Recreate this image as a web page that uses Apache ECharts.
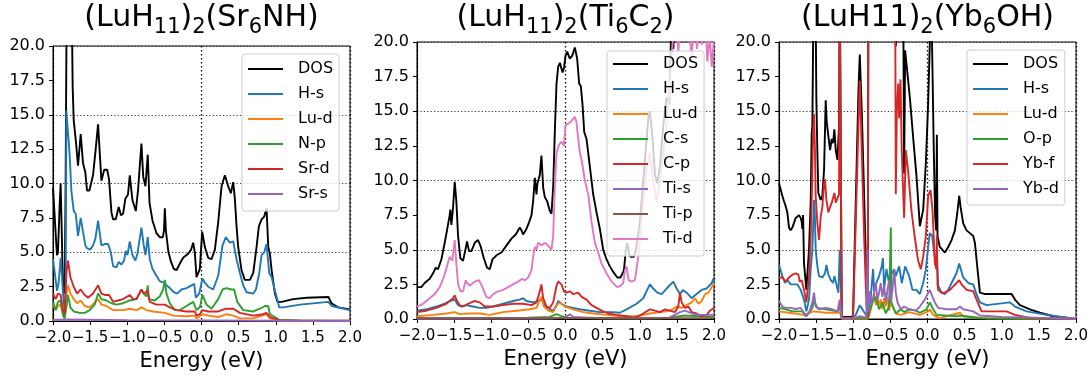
<!DOCTYPE html>
<html>
<head>
<meta charset="utf-8">
<script src="https://cdn.jsdelivr.net/npm/echarts@6/dist/echarts.min.js"></script>
<style>html,body{margin:0;padding:0;background:#fff}#c{width:1091px;height:377px}</style>
</head>
<body>
<div id="c"></div>
<script>
// ---------- tick labels ----------
const xTicks = [-2.0, -1.5, -1.0, -0.5, 0.0, 0.5, 1.0, 1.5, 2.0];
const yTicks = [0.0, 2.5, 5.0, 7.5, 10.0, 12.5, 15.0, 17.5, 20.0];

// ---------- Panel 1: (LuH11)2(Sr6NH) ----------
const sr_DOS = [[-2.00,9.7],[-1.98,9.8],[-1.96,6.0],[-1.946,4.8],[-1.933,5.0],[-1.91,8.5],[-1.897,10.0],[-1.88,6],[-1.865,2.2],[-1.843,2.0],[-1.83,10],[-1.815,24],[-1.75,24],[-1.735,17],[-1.721,14.6],[-1.694,13.2],[-1.663,11.3],[-1.627,13.6],[-1.596,11.5],[-1.564,10.8],[-1.542,9.5],[-1.51,9.5],[-1.461,10.6],[-1.425,12.5],[-1.393,14.3],[-1.348,10.2],[-1.31,11.0],[-1.27,11.0],[-1.245,10.3],[-1.213,7.9],[-1.191,7.4],[-1.155,7.4],[-1.115,8.3],[-1.085,7.7],[-1.056,7.8],[-1.025,8.9],[-0.99,9.2],[-0.966,10.6],[-0.93,8.8],[-0.885,8.0],[-0.855,9.5],[-0.809,12.9],[-0.785,10.5],[-0.755,9.8],[-0.724,12.1],[-0.70,8.6],[-0.66,7.3],[-0.607,6.4],[-0.562,6.1],[-0.52,6.1],[-0.505,6.6],[-0.494,8.2],[-0.48,6.6],[-0.445,5.0],[-0.41,4.3],[-0.373,3.8],[-0.337,3.7],[-0.29,4.2],[-0.247,4.6],[-0.18,4.9],[-0.14,5.2],[-0.112,5.7],[-0.09,5.0],[-0.067,3.2],[-0.022,3.8],[0.009,6.5],[0.045,5.4],[0.09,4.6],[0.135,4.5],[0.18,5.2],[0.225,7.2],[0.27,9.8],[0.315,10.6],[0.36,9.8],[0.395,9.3],[0.427,10.1],[0.449,8.9],[0.472,6.9],[0.494,5.4],[0.539,3.7],[0.584,3.0],[0.652,3.0],[0.697,3.5],[0.742,5.4],[0.773,6.9],[0.809,7.4],[0.845,7.6],[0.876,8.2],[0.899,5.4],[0.921,4.9],[0.944,3.7],[0.989,2.0],[1.025,1.4],[1.08,1.4],[1.236,1.6],[1.416,1.7],[1.71,1.75],[1.75,1.3],[1.84,1.0],[2.0,0.85]];
const sr_Hs = [[-2.0,4.5],[-1.964,3.0],[-1.946,2.2],[-1.924,2.8],[-1.897,4.6],[-1.875,3],[-1.865,2.0],[-1.843,0.8],[-1.83,1.5],[-1.82,15.3],[-1.798,15.2],[-1.775,12],[-1.753,9.5],[-1.721,8.0],[-1.694,7.8],[-1.663,6.2],[-1.627,7.5],[-1.596,6.5],[-1.564,5.5],[-1.542,5.3],[-1.497,5.2],[-1.461,5.5],[-1.429,6.0],[-1.393,7.3],[-1.348,5.5],[-1.303,5.6],[-1.258,5.6],[-1.222,5.0],[-1.191,4.0],[-1.146,3.9],[-1.115,4.3],[-1.079,4.1],[-1.043,4.4],[-1.020,5.1],[-0.998,4.8],[-0.966,5.8],[-0.930,4.8],[-0.890,4.4],[-0.863,4.9],[-0.809,6.8],[-0.778,5.5],[-0.755,4.8],[-0.724,6.1],[-0.697,4.5],[-0.661,3.8],[-0.607,3.3],[-0.562,2.9],[-0.508,2.8],[-0.494,2.9],[-0.472,2.6],[-0.427,2.4],[-0.373,2.1],[-0.328,2.0],[-0.270,2.3],[-0.202,2.4],[-0.135,2.6],[-0.099,2.7],[-0.076,1.7],[-0.031,2.0],[0.013,3.1],[0.045,2.8],[0.09,2.5],[0.157,2.3],[0.225,3.3],[0.283,5.5],[0.328,6.1],[0.382,5.7],[0.427,5.8],[0.472,4.5],[0.517,3.5],[0.562,2.6],[0.607,2.1],[0.697,2.0],[0.733,2.3],[0.778,3.5],[0.809,4.8],[0.845,5.0],[0.876,5.6],[0.912,3.5],[0.944,3.2],[0.989,2.2],[1.047,1.0],[1.101,1.0],[1.326,1.2],[1.708,1.4],[1.753,1.1],[2.0,0.8]];
const sr_Lud = [[-2.0,1.2],[-1.964,0.8],[-1.933,1.1],[-1.897,1.2],[-1.865,0.5],[-1.843,0.2],[-1.82,2.0],[-1.798,2.6],[-1.766,2.0],[-1.721,1.6],[-1.676,1.3],[-1.627,1.5],[-1.573,1.1],[-1.506,1.0],[-1.393,1.6],[-1.348,1.2],[-1.281,1.1],[-1.191,0.8],[-1.056,0.8],[-0.966,0.9],[-0.876,0.8],[-0.809,1.0],[-0.742,0.8],[-0.652,0.7],[-0.494,0.6],[-0.382,0.4],[-0.202,0.35],[-0.090,0.4],[-0.067,0.2],[0.013,0.5],[0.09,0.4],[0.225,0.3],[0.337,0.5],[0.427,0.4],[0.517,0.2],[0.697,0.2],[0.876,0.5],[0.921,0.2],[1.047,0.03],[2.0,0.01]];
const sr_Np = [[-2.0,1.4],[-1.964,0.8],[-1.933,1.4],[-1.897,1.5],[-1.865,0.4],[-1.843,0.2],[-1.82,1.0],[-1.798,1.9],[-1.766,1.0],[-1.721,0.7],[-1.640,0.6],[-1.573,0.6],[-1.506,0.8],[-1.438,1.2],[-1.393,2.0],[-1.348,1.6],[-1.281,1.5],[-1.213,1.3],[-1.146,1.2],[-1.056,1.3],[-0.966,1.5],[-0.876,1.6],[-0.809,2.3],[-0.778,2.0],[-0.742,1.8],[-0.724,2.6],[-0.710,1.6],[-0.629,1.5],[-0.562,1.8],[-0.517,2.3],[-0.494,3.0],[-0.472,2.0],[-0.427,1.3],[-0.360,0.8],[-0.292,0.8],[-0.202,1.1],[-0.112,1.4],[-0.090,1.5],[-0.067,0.8],[-0.022,1.0],[0.013,1.9],[0.067,1.2],[0.135,0.9],[0.225,1.6],[0.283,2.3],[0.337,2.4],[0.404,2.3],[0.440,2.3],[0.481,1.4],[0.562,0.8],[0.697,0.7],[0.787,0.9],[0.854,1.1],[0.899,1.1],[0.921,0.5],[0.989,0.3],[1.047,0.1],[1.326,0.05],[2.0,0.02]];
const sr_Srd = [[-2.0,2.0],[-1.964,1.6],[-1.933,2.0],[-1.897,1.9],[-1.865,0.8],[-1.843,0.5],[-1.82,3.5],[-1.798,4.4],[-1.766,3.2],[-1.721,2.5],[-1.676,2.0],[-1.627,2.3],[-1.573,1.9],[-1.528,1.7],[-1.461,2.0],[-1.393,2.6],[-1.348,2.0],[-1.303,1.9],[-1.245,1.9],[-1.191,1.4],[-1.124,1.5],[-1.056,1.6],[-0.966,1.9],[-0.921,1.6],[-0.876,1.6],[-0.809,2.3],[-0.778,2.0],[-0.724,2.2],[-0.697,1.4],[-0.607,1.2],[-0.494,1.2],[-0.427,1.0],[-0.337,0.8],[-0.202,0.7],[-0.090,0.7],[-0.067,0.4],[-0.022,0.5],[0.013,0.8],[0.09,0.7],[0.225,0.7],[0.328,0.9],[0.427,0.9],[0.517,0.6],[0.697,0.4],[0.831,0.5],[0.876,0.6],[0.921,0.3],[1.047,0.05],[2.0,0.02]];
const sr_Srs = [[-2.0,0.08],[-1.82,0.12],[-1.0,0.07],[0.0,0.05],[1.0,0.03],[2.0,0.01]];

// ---------- Panel 2: (LuH11)2(Ti6C2) ----------
const ti_DOS = [[-2.0,2.3],[-1.942,2.3],[-1.897,2.6],[-1.829,2.9],[-1.784,3.3],[-1.748,3.7],[-1.717,3.6],[-1.672,4.3],[-1.627,5.5],[-1.596,6.4],[-1.560,7.5],[-1.551,7.9],[-1.537,6.8],[-1.515,8.0],[-1.492,9.9],[-1.470,8.5],[-1.447,6.0],[-1.416,4.4],[-1.380,4.2],[-1.344,5.1],[-1.326,5.6],[-1.299,4.9],[-1.267,4.9],[-1.222,5.5],[-1.178,5.7],[-1.146,5.3],[-1.101,4.4],[-1.056,3.7],[-1.020,3.6],[-0.984,4.3],[-0.930,4.6],[-0.863,4.8],[-0.796,5.3],[-0.728,5.8],[-0.670,6.1],[-0.616,6.6],[-0.593,6.4],[-0.571,6.1],[-0.526,6.5],[-0.490,7.0],[-0.458,7.5],[-0.436,8.5],[-0.413,10.2],[-0.391,9.0],[-0.378,9.8],[-0.346,10.4],[-0.324,11.8],[-0.301,9.5],[-0.279,8.8],[-0.247,8.5],[-0.211,7.8],[-0.189,7.6],[-0.166,9.5],[-0.144,13.5],[-0.121,17],[-0.099,18.2],[-0.076,18.5],[-0.040,17.8],[-0.018,18.2],[0.0,19.0],[0.022,19.3],[0.058,18.8],[0.090,19.0],[0.126,19.6],[0.157,18.8],[0.184,17.0],[0.207,16.8],[0.229,15.5],[0.252,13.5],[0.283,13.0],[0.328,11.0],[0.373,9.0],[0.418,7.7],[0.463,6.5],[0.508,5.0],[0.553,4.3],[0.598,3.8],[0.643,3.4],[0.697,3.0],[0.742,3.0],[0.787,3.5],[0.809,4.8],[0.831,5.5],[0.858,4.7],[0.876,4.5],[0.921,4.5],[0.948,5.0],[1.002,7.0],[1.070,11.5],[1.115,14.5],[1.137,15.0],[1.173,13.0],[1.204,10.5],[1.236,9.8],[1.272,11.0],[1.317,14.0],[1.362,16.0],[1.398,15.5],[1.429,22],[1.452,19.5],[1.48,23],[1.6,25],[2.0,25]];
const ti_Hs = [[-2.0,0.6],[-1.874,0.7],[-1.739,0.9],[-1.627,1.1],[-1.560,1.3],[-1.492,1.4],[-1.447,1.0],[-1.402,0.9],[-1.335,1.0],[-1.245,0.9],[-1.155,0.8],[-1.065,0.8],[-0.975,0.9],[-0.840,1.1],[-0.706,1.3],[-0.616,1.4],[-0.571,1.5],[-0.526,1.3],[-0.436,1.2],[-0.369,1.3],[-0.324,1.4],[-0.279,1.0],[-0.211,0.7],[-0.166,0.6],[-0.121,1.0],[-0.099,1.3],[-0.054,1.1],[0.013,0.9],[0.103,0.8],[0.193,0.7],[0.328,0.6],[0.463,0.5],[0.643,0.5],[0.733,0.45],[0.822,0.7],[0.957,1.1],[1.047,1.5],[1.10,2.1],[1.137,2.5],[1.182,2.2],[1.236,1.9],[1.294,1.8],[1.362,2.2],[1.452,2.7],[1.497,2.2],[1.542,1.8],[1.58,2.1],[1.631,1.9],[1.699,1.5],[1.766,1.8],[1.834,2.1],[1.90,2.2],[1.97,2.6],[1.99,2.9],[2.0,2.6]];
const ti_Lud = [[-2.0,0.2],[-1.784,0.3],[-1.604,0.4],[-1.492,0.5],[-1.425,0.35],[-1.290,0.4],[-1.155,0.4],[-1.020,0.3],[-0.840,0.5],[-0.661,0.6],[-0.481,0.7],[-0.391,0.8],[-0.346,1.4],[-0.324,1.6],[-0.292,0.9],[-0.234,0.6],[-0.166,0.5],[-0.121,1.0],[-0.076,1.2],[-0.009,0.9],[0.103,0.7],[0.238,0.5],[0.373,0.4],[0.553,0.3],[0.733,0.2],[0.957,0.2],[1.137,0.4],[1.272,0.5],[1.407,0.6],[1.497,0.9],[1.564,0.8],[1.631,1.0],[1.699,1.2],[1.744,1.5],[1.789,1.1],[1.834,1.3],[1.879,1.8],[1.924,1.9],[1.969,2.3],[2.0,2.6]];
const ti_Cs = [[-2.0,0.05],[-1.0,0.08],[-0.5,0.1],[-0.211,0.15],[-0.121,0.35],[-0.054,0.2],[0.013,0.1],[0.373,0.05],[1.272,0.05],[1.4,0.1],[1.6,0.25],[1.8,0.2],[2.0,0.15]];
const ti_Cp = [[-2.0,0.5],[-1.874,0.6],[-1.739,0.8],[-1.604,1.1],[-1.515,1.5],[-1.492,1.7],[-1.461,1.3],[-1.425,1.0],[-1.380,0.9],[-1.312,1.1],[-1.222,1.3],[-1.155,1.2],[-1.088,0.9],[-0.975,0.9],[-0.840,1.0],[-0.706,1.1],[-0.571,1.1],[-0.458,1.0],[-0.391,1.2],[-0.346,2.0],[-0.324,2.5],[-0.301,1.5],[-0.256,0.9],[-0.211,0.8],[-0.166,1.2],[-0.121,2.4],[-0.099,2.7],[-0.054,2.5],[-0.022,2.0],[0.013,1.9],[0.058,2.0],[0.103,1.8],[0.171,1.9],[0.216,1.6],[0.283,1.4],[0.351,1.0],[0.418,0.8],[0.485,0.6],[0.575,0.4],[0.688,0.3],[0.822,0.2],[0.912,0.1],[0.980,0.2],[1.047,0.4],[1.137,0.7],[1.204,0.6],[1.272,0.5],[1.339,0.7],[1.407,0.6],[1.474,0.5],[1.519,0.9],[1.542,1.9],[1.564,1.2],[1.609,0.8],[1.654,0.9],[1.699,0.5],[1.766,0.4],[1.834,0.2],[1.901,0.3],[1.946,0.6],[2.0,0.8]];
const ti_Tis = [[-2.0,0.02],[-0.2,0.03],[0.0,0.1],[0.058,0.35],[0.103,0.15],[0.3,0.1],[0.5,0.05],[1.0,0.05],[1.4,0.1],[1.542,0.5],[1.609,0.6],[1.7,0.4],[1.8,0.3],[2.0,0.3]];
const ti_Tip = [[-2.0,0.05],[-1.0,0.06],[0.0,0.08],[1.0,0.05],[2.0,0.06]];
const ti_Tid = [[-2.0,0.9],[-1.919,1.1],[-1.829,1.5],[-1.762,1.8],[-1.694,2.3],[-1.640,3.0],[-1.596,3.8],[-1.560,4.5],[-1.524,4.2],[-1.506,5.0],[-1.492,5.7],[-1.470,4.0],[-1.447,2.5],[-1.416,2.0],[-1.380,2.0],[-1.344,2.8],[-1.326,2.6],[-1.290,2.4],[-1.222,2.7],[-1.164,2.8],[-1.119,2.3],[-1.065,1.6],[-1.020,1.5],[-0.975,1.8],[-0.908,2.0],[-0.840,2.1],[-0.773,2.3],[-0.706,2.5],[-0.638,2.7],[-0.584,2.9],[-0.548,2.8],[-0.503,3.0],[-0.458,3.5],[-0.436,4.5],[-0.413,5.2],[-0.391,5.0],[-0.369,5.5],[-0.324,5.3],[-0.279,5.5],[-0.234,5.3],[-0.189,5.0],[-0.166,6.0],[-0.144,9.5],[-0.121,12.0],[-0.085,12.6],[-0.054,12.8],[-0.022,12.5],[0.0,14.0],[0.036,14.1],[0.081,14.3],[0.126,14.6],[0.148,14.2],[0.171,13.0],[0.193,12.0],[0.216,11.5],[0.261,10.0],[0.306,9.0],[0.351,7.0],[0.396,5.5],[0.440,4.8],[0.485,4.0],[0.553,3.3],[0.620,2.7],[0.697,2.3],[0.742,2.4],[0.778,2.6],[0.800,3.5],[0.822,3.8],[0.849,2.8],[0.890,2.7],[0.935,2.8],[0.980,4.5],[1.038,8.0],[1.092,11.0],[1.137,12.0],[1.182,10.0],[1.227,8.5],[1.272,10.0],[1.339,13.0],[1.407,17.0],[1.45,20.5],[1.497,21],[1.52,19.3],[1.55,22],[1.60,20.2],[1.65,21.5],[1.70,19.0],[1.74,22],[1.77,19.5],[1.80,21],[1.84,19.8],[1.88,22],[1.91,18.6],[1.94,20.5],[1.97,18.2],[2.0,20.3]];

// ---------- Panel 3: (LuH11)2(Yb6OH) ----------
const yb_DOS = [[-2.0,9.8],[-1.955,8.9],[-1.933,8.5],[-1.919,8.3],[-1.91,8.4],[-1.888,7.7],[-1.865,6.6],[-1.843,6.4],[-1.820,6.6],[-1.775,7.3],[-1.730,7.5],[-1.708,7.3],[-1.694,7.0],[-1.685,6.5],[-1.676,7.5],[-1.663,4.0],[-1.631,2.1],[-1.596,5.0],[-1.573,8.4],[-1.560,13.4],[-1.551,13.9],[-1.537,22],[-1.506,22],[-1.497,16],[-1.483,12.0],[-1.470,9.1],[-1.438,8.6],[-1.416,8.9],[-1.393,10.8],[-1.371,15.8],[-1.357,14.2],[-1.335,13.2],[-1.312,12.2],[-1.290,13.0],[-1.272,12.7],[-1.254,13.7],[-1.236,12.2],[-1.213,11.5],[-1.191,14],[-1.182,25],[-1.160,25],[-1.155,0.3],[-1.146,0.15],[-1.011,0.15],[-1.002,0.4],[-0.966,8.5],[-0.930,16.5],[-0.912,19.1],[-0.885,15],[-0.854,9],[-0.822,2.5],[-0.804,0.5],[-0.796,25],[-0.449,25],[-0.427,19.7],[-0.404,22],[-0.360,25],[-0.324,20],[-0.315,10.5],[-0.301,19.4],[-0.283,19.3],[-0.238,16],[-0.193,13.1],[-0.148,10.3],[-0.103,6.7],[-0.058,7.9],[-0.022,11.3],[0.009,15.6],[0.031,19.9],[0.045,25],[0.060,25],[0.067,18],[0.085,12],[0.103,7.4],[0.117,6.4],[0.126,13.3],[0.135,6.0],[0.166,5.2],[0.234,4.8],[0.279,5.2],[0.324,5.7],[0.369,6.4],[0.400,7.6],[0.427,8.9],[0.445,8.1],[0.481,6.9],[0.526,6.4],[0.571,6.2],[0.616,6.0],[0.638,5.5],[0.683,3.1],[0.706,1.9],[0.773,1.8],[1.133,1.8],[1.178,1.4],[1.245,1.0],[1.380,0.7],[1.515,0.45],[1.694,0.2],[1.897,0.07],[2.0,0.0]];
const yb_Hs = [[-2.0,3.9],[-1.955,3.1],[-1.919,2.6],[-1.888,2.8],[-1.843,2.5],[-1.753,2.5],[-1.708,2.1],[-1.685,2.1],[-1.663,1.4],[-1.631,0.55],[-1.596,1.4],[-1.573,3.6],[-1.551,5.0],[-1.528,8.6],[-1.519,7.9],[-1.506,5.0],[-1.483,3.8],[-1.461,3.1],[-1.416,3.0],[-1.380,3.3],[-1.362,3.9],[-1.335,3.2],[-1.303,2.8],[-1.272,2.6],[-1.254,3.1],[-1.227,2.5],[-1.200,1.9],[-1.182,5.0],[-1.164,2],[-1.155,0.1],[-1.146,0.05],[-1.011,0.05],[-0.966,0.3],[-0.912,1.0],[-0.854,0.5],[-0.804,0.1],[-0.787,0.8],[-0.764,1.6],[-0.733,3.6],[-0.719,2.0],[-0.697,2.5],[-0.652,3.1],[-0.616,3.8],[-0.600,4.4],[-0.584,2.2],[-0.553,3.6],[-0.517,2.6],[-0.481,3.3],[-0.449,3.6],[-0.427,3.1],[-0.382,3.8],[-0.346,2.6],[-0.301,3.8],[-0.247,3.1],[-0.202,2.1],[-0.148,2.1],[-0.103,1.8],[-0.058,2.6],[-0.022,3.6],[0.009,5.2],[0.031,6.2],[0.063,6.0],[0.085,5.0],[0.121,3.6],[0.126,4.5],[0.144,2.4],[0.189,1.9],[0.234,1.8],[0.279,2.1],[0.324,2.6],[0.391,3.3],[0.427,4.0],[0.449,3.6],[0.481,3.0],[0.548,2.6],[0.616,2.5],[0.652,1.9],[0.706,1.2],[0.796,1.0],[1.110,1.2],[1.178,0.9],[1.335,0.55],[1.605,0.3],[1.897,0.07],[2.0,0.0]];
const yb_Lud = [[-2.0,0.55],[-1.865,0.45],[-1.663,0.3],[-1.596,0.45],[-1.528,0.55],[-1.371,0.45],[-1.213,0.45],[-1.182,0.5],[-1.155,0.02],[-0.804,0.02],[-0.787,0.2],[-0.742,1.2],[-0.719,1.9],[-0.697,1.0],[-0.674,1.5],[-0.652,1.0],[-0.629,1.4],[-0.607,0.7],[-0.584,1.5],[-0.562,0.9],[-0.539,1.6],[-0.517,0.6],[-0.494,1.3],[-0.472,0.9],[-0.427,0.4],[-0.360,0.3],[-0.247,0.5],[-0.103,0.3],[0.009,0.55],[0.031,0.7],[0.076,0.3],[0.166,0.07],[0.436,0.45],[0.481,0.2],[0.796,0.05],[2.0,0.0]];
const yb_Op = [[-2.0,0.8],[-1.910,0.7],[-1.820,0.55],[-1.685,0.55],[-1.640,0.2],[-1.596,0.45],[-1.551,0.8],[-1.528,1.3],[-1.483,0.8],[-1.371,0.7],[-1.213,0.55],[-1.182,0.9],[-1.155,0.05],[-0.804,0.05],[-0.787,0.4],[-0.742,1.2],[-0.697,1.6],[-0.652,0.7],[-0.607,1.2],[-0.562,0.4],[-0.517,0.9],[-0.497,1.0],[-0.494,6.6],[-0.487,1.2],[-0.472,1.2],[-0.427,0.4],[-0.360,0.7],[-0.315,0.5],[-0.247,0.7],[-0.157,0.6],[-0.103,0.45],[-0.013,0.7],[0.031,1.2],[0.067,0.8],[0.121,0.3],[0.391,0.2],[0.436,0.25],[0.706,0.05],[2.0,0.0]];
const yb_Ybf = [[-2.0,3.0],[-1.955,3.0],[-1.933,3.1],[-1.910,2.7],[-1.865,3.0],[-1.820,3.2],[-1.775,3.3],[-1.739,3.2],[-1.721,2.7],[-1.694,2.8],[-1.663,2.1],[-1.631,1.2],[-1.596,3.1],[-1.573,6.0],[-1.560,8.4],[-1.542,13.2],[-1.528,14.8],[-1.515,12.0],[-1.506,8.9],[-1.483,6.9],[-1.461,5.7],[-1.438,7.4],[-1.416,8.1],[-1.393,9.8],[-1.380,10.1],[-1.362,8.6],[-1.335,7.7],[-1.312,8.1],[-1.290,8.4],[-1.272,8.3],[-1.254,9.1],[-1.236,8.4],[-1.213,8.4],[-1.191,9],[-1.182,25],[-1.160,25],[-1.155,0.1],[-1.146,0.05],[-1.011,0.05],[-1.002,0.2],[-0.966,7],[-0.930,14],[-0.912,17.2],[-0.885,12],[-0.854,6],[-0.822,1],[-0.804,0.1],[-0.796,25],[-0.436,25],[-0.427,9.0],[-0.413,15],[-0.395,17],[-0.382,14.5],[-0.364,17.3],[-0.346,12],[-0.315,7.3],[-0.292,12.2],[-0.261,10.7],[-0.216,7.8],[-0.171,5.9],[-0.126,4.2],[-0.090,3.6],[-0.058,4.5],[-0.022,6.0],[0.009,8.9],[0.040,9.3],[0.067,7.9],[0.099,4.0],[0.121,3.6],[0.126,6.0],[0.135,2.5],[0.144,2.1],[0.189,1.9],[0.234,1.9],[0.301,2.1],[0.391,2.6],[0.427,2.8],[0.458,2.5],[0.526,2.1],[0.616,2.0],[0.661,1.4],[0.728,0.55],[1.065,0.55],[1.178,0.3],[1.380,0.07],[2.0,0.0]];
const yb_Ybd = [[-2.0,1.3],[-1.955,0.9],[-1.910,0.8],[-1.843,0.8],[-1.775,0.72],[-1.708,0.8],[-1.663,0.45],[-1.631,0.2],[-1.596,0.45],[-1.551,1.2],[-1.528,1.9],[-1.506,0.9],[-1.461,0.7],[-1.371,0.8],[-1.281,0.7],[-1.213,0.55],[-1.182,1.4],[-1.155,0.05],[-1.011,0.05],[-0.912,0.2],[-0.822,0.1],[-0.809,5.0],[-0.796,0.5],[-0.787,2.0],[-0.764,2.1],[-0.742,1.2],[-0.719,1.9],[-0.697,2.6],[-0.674,1.4],[-0.652,1.9],[-0.629,2.6],[-0.607,1.6],[-0.584,2.4],[-0.562,1.2],[-0.539,2.1],[-0.517,2.8],[-0.494,1.2],[-0.472,2.1],[-0.449,3.6],[-0.427,1.9],[-0.404,1.2],[-0.360,0.7],[-0.315,0.9],[-0.247,0.7],[-0.157,0.6],[-0.103,0.9],[-0.036,1.4],[0.009,1.9],[0.031,2.1],[0.067,1.6],[0.099,1.2],[0.144,0.8],[0.256,0.7],[0.391,0.7],[0.436,0.9],[0.481,0.7],[0.616,0.55],[0.706,0.25],[1.0,0.15],[2.0,0.02]];

const FONT = "'DejaVu Sans', sans-serif";
const C = {k:'#000000', blue:'#1f77b4', orange:'#ff7f0e', green:'#2ca02c', red:'#d62728', purple:'#9467bd', brown:'#8c564b', pink:'#e377c2'};

const panels = [
  {left:53, top:46, title:'{a|(LuH}{s|11}{a|)}{s|2}{a|(Sr}{s|6}{a|NH)}', legendLeft:242, legendTop:54, legendPad:[7,6,9,6],
   series:[['DOS',sr_DOS,C.k],['H-s',sr_Hs,C.blue],['Lu-d',sr_Lud,C.orange],['N-p',sr_Np,C.green],['Sr-d',sr_Srd,C.red],['Sr-s',sr_Srs,C.purple]]},
  {left:417, top:42, title:'{a|(LuH}{s|11}{a|)}{s|2}{a|(Ti}{s|6}{a|C}{s|2}{a|)}', legendLeft:607, legendTop:51, legendPad:[5,6,9,6],
   series:[['DOS',ti_DOS,C.k],['H-s',ti_Hs,C.blue],['Lu-d',ti_Lud,C.orange],['C-s',ti_Cs,C.green],['C-p',ti_Cp,C.red],['Ti-s',ti_Tis,C.purple],['Ti-p',ti_Tip,C.brown],['Ti-d',ti_Tid,C.pink]]},
  {left:779, top:42, title:'{a|(LuH11)}{s|2}{a|(Yb}{s|6}{a|OH)}', legendLeft:967, legendTop:50, legendPad:[6,6,8,6],
   series:[['DOS',yb_DOS,C.k],['H-s',yb_Hs,C.blue],['Lu-d',yb_Lud,C.orange],['O-p',yb_Op,C.green],['Yb-f',yb_Ybf,C.red],['Yb-d',yb_Ybd,C.purple]]}
];
const W = 297, H = 277;
const fmt = v => { const s = Math.abs(v).toFixed(1); return v < -1e-9 ? '\u2212' + s : s; };

const option = {animation:false, backgroundColor:'#fff', grid:[], xAxis:[], yAxis:[], series:[], legend:[], title:[]};
panels.forEach((p, i) => {
  option.grid.push({left:p.left, top:p.top, width:W, height:H, show:true, borderColor:'#000', borderWidth:1, containLabel:false});
  option.title.push({text:p.title, left:p.left + W/2, top:3, textAlign:'center', padding:0,
    textStyle:{fontWeight:'normal', rich:{a:{fontFamily:FONT, fontSize:30, fontWeight:'normal', color:'#000', lineHeight:35, verticalAlign:'top'},
                     s:{fontFamily:FONT, fontSize:21, fontWeight:'normal', color:'#000', lineHeight:17, verticalAlign:'bottom'}}}});
  option.xAxis.push({gridIndex:i, type:'value', min:xTicks[0], max:xTicks[xTicks.length-1], interval:0.5,
    axisLine:{show:true, onZero:false, lineStyle:{color:'#000', width:1}},
    axisTick:{show:true, length:4, lineStyle:{color:'#000'}},
    axisLabel:{formatter:fmt, fontFamily:FONT, fontSize:15, color:'#000', margin:10, hideOverlap:false},
    splitLine:{show:false},
    name:'Energy (eV)', nameLocation:'middle', nameGap:22, nameTextStyle:{fontFamily:FONT, fontSize:21, color:'#000'}});
  option.xAxis.push({gridIndex:i, type:'value', min:-2, max:2, interval:2, position:'top',
    axisLine:{show:false}, axisTick:{show:false}, axisLabel:{show:false},
    splitLine:{show:true, lineStyle:{color:'#000', width:1.3, type:[1.5,2.5]}}});
  option.yAxis.push({gridIndex:i, type:'value', min:yTicks[0], max:yTicks[yTicks.length-1], interval:2.5,
    axisLine:{show:true, onZero:false, lineStyle:{color:'#000', width:1}},
    axisTick:{show:true, length:4, lineStyle:{color:'#000'}},
    axisLabel:{formatter:v => v.toFixed(1), fontFamily:FONT, fontSize:16, color:'#000', margin:8},
    splitLine:{show:false}});
  option.yAxis.push({gridIndex:i, type:'value', min:0, max:20, interval:5, position:'right',
    axisLine:{show:false}, axisTick:{show:false}, axisLabel:{show:false},
    splitLine:{show:true, lineStyle:{color:'#333', width:1, type:[1.2,2.2]}}});
  p.series.forEach(([name, data, color]) => {
    option.series.push({type:'line', name, data, xAxisIndex:2*i, yAxisIndex:2*i, symbol:'none', showSymbol:false,
      clip:true, color, lineStyle:{color, width:1.9}, itemStyle:{color}, emphasis:{disabled:true}, silent:true});
  });
  option.legend.push({data:p.series.map(s => ({name:s[0], icon:'rect', itemStyle:{color:s[2]}})), orient:'vertical', left:p.legendLeft, top:p.legendTop,
    padding:p.legendPad, itemGap:9, itemWidth:35, itemHeight:2,
    backgroundColor:'rgba(255,255,255,0.8)', borderColor:'#cccccc', borderWidth:1, borderRadius:3,
    textStyle:{fontFamily:FONT, fontSize:16, color:'#000', lineHeight:15, padding:[0,0,0,10]},
    selectedMode:false});
});

const chart = echarts.init(document.getElementById('c'), null, {renderer:'canvas', width:1091, height:377});
chart.setOption(option);
</script>
</body>
</html>
